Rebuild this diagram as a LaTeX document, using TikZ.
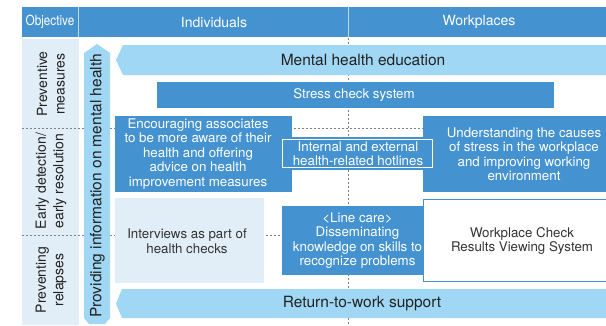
\documentclass[tikz,border=0pt]{standalone}
\usepackage{fontspec}
\setmainfont{TeX Gyre Heros}
\definecolor{dblue}{RGB}{69,146,208}
\definecolor{lblue}{RGB}{160,215,245}
\definecolor{pale}{RGB}{225,238,248}
\definecolor{ink}{RGB}{34,34,34}
\definecolor{dgray}{RGB}{51,51,51}
\begin{document}
\begin{tikzpicture}[x=1pt,y=-1pt,
  bluebox/.style={fill=dblue, draw=none, inner sep=0pt},
  palebox/.style={fill=pale, draw=none, inner sep=0pt},
  wtext/.style={text=white, align=center, inner sep=0pt, font=\fontsize{13.3}{14.5}\selectfont},
  dtext/.style={text=dgray, align=center, inner sep=0pt, font=\fontsize{13.3}{14.5}\selectfont},
  bigtext/.style={text=ink, align=center, inner sep=0pt, font=\fontsize{15.5}{18}\selectfont},
  hdrtext/.style={text=white, inner sep=0pt, font=\fontsize{14}{16}\selectfont},
  sidetext/.style={text=ink, align=center, inner sep=0pt, rotate=90, font=\fontsize{14}{17.5}\selectfont},
  gridline/.style={draw=gray, line width=0.9pt, dash pattern=on 2pt off 2pt},
  arrowfill/.style={fill=lblue, draw=none}]
\useasboundingbox (0,0) rectangle (606,325);
% header
\fill[dblue] (22,7) rectangle (606,37);
\draw[white!65!dblue, line width=1pt] (78,7) -- (78,37) (348,7) -- (348,37);
\node[hdrtext] (hobj) at (50,22) {\scalebox{0.84}[1]{Objective}};
\node[hdrtext] (hind) at (214,22) {Individuals};
\node[hdrtext] (hwork) at (479,22) {Workplaces};
% left column
\fill[pale] (22,39) rectangle (79,325);
% grid lines
\coordinate (g1l) at (22,128); \coordinate (g1r) at (606,128);
\coordinate (g2l) at (22,235); \coordinate (g2r) at (606,235);
\coordinate (gvt) at (348,38); \coordinate (gvb) at (348,325);
\draw[gridline] (g1l) -- (g1r);
\draw[gridline] (g2l) -- (g2r);
\draw[gridline] (gvt) -- (gvb);
% side labels
\node[sidetext] (s1) at (51,84) {Preventive\\measures};
\node[sidetext] (s2) at (51,181) {Early detection/\\early resolution};
\node[sidetext] (s3) at (51,280) {Preventing\\relapses};
% vertical arrow
\fill[arrowfill] (97,44) -- (110,53) -- (110,318) -- (105,324) -- (89,324) -- (84,318) -- (84,53) -- cycle;
\node[bigtext, rotate=90] (vtext) at (97.5,186) {Providing information on mental health};
% mental health education arrow
\fill[arrowfill] (116,60) -- (123,45) -- (611,45) -- (611,75) -- (123,75) -- cycle;
\node[bigtext] (mhe) at (363,60) {Mental health education};
% stress check
\node[bluebox, minimum width=397pt, minimum height=26pt] (stress) at (355.5,95) {};
\node[wtext] (stresst) at (354,95) {Stress check system};
% encouraging
\node[bluebox, minimum width=177pt, minimum height=76pt] (enc) at (203.5,154) {};
\node[wtext] (enct) at (198,154) {Encouraging associates\\to be more aware of their\\health and offering\\advice on health\\improvement measures};
% understanding
\node[bluebox, minimum width=203pt, minimum height=76pt] (und) at (524.5,154) {};
\node[wtext] (undt) at (524,154) {Understanding the causes\\of stress in the workplace\\and improving working\\environment};
% internal hotlines
\node[bluebox, minimum width=155pt, minimum height=33pt] (hot) at (357.5,153.5) {};
\node[draw=white, line width=0.8pt, minimum width=150.5pt, minimum height=28.5pt, inner sep=0pt] (hotb) at (357.5,153.5) {};
\node[wtext] (hott) at (358,153.5) {Internal and external\\health-related hotlines};
% interviews
\node[palebox, minimum width=149pt, minimum height=85pt] (int) at (189.5,240.5) {};
\node[dtext] (intt) at (187,241) {Interviews as part of\\health checks};
% line care
\node[bluebox, minimum width=151pt, minimum height=69pt] (line) at (357.5,240.5) {};
\node[wtext] (linet) at (357.5,240.5) {<Line care>\\Disseminating\\knowledge on skills to\\recognize problems};
% workplace check
\node[fill=white, draw=dblue, line width=1pt, minimum width=206pt, minimum height=82pt, inner sep=0pt] (wcs) at (526.5,240.5) {};
\node[dtext] (wcst) at (522,241) {Workplace Check\\Results Viewing System};
% return to work arrow
\fill[arrowfill] (116,303.5) -- (122,289) -- (611,289) -- (611,318) -- (122,318) -- cycle;
\node[bigtext] (rtw) at (362,304) {Return-to-work support};
\end{tikzpicture}
\end{document}
